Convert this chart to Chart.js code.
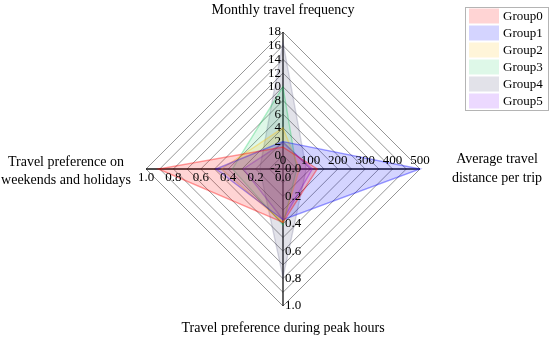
<!DOCTYPE html>
<html><head><meta charset="utf-8">
<script src="https://cdn.jsdelivr.net/npm/chart.js@4/dist/chart.umd.min.js"></script>
<style>html,body{margin:0;padding:0;background:#fff;}#wrap{position:relative;width:550px;height:341px;}</style>
</head><body><div id="wrap"><canvas id="c" width="550" height="341"></canvas></div>
<script>
// ---- data ----
const categories = ["Monthly travel frequency", "Average travel distance per trip", "Travel preference during peak hours", "Travel preference on weekends and holidays"];
const axisTitleLines = [["Monthly travel frequency"], ["Average travel", "distance per trip"], ["Travel preference during peak hours"], ["Travel preference on", "weekends and holidays"]];
const axisMin = [-2, 0, 0, 0];
const axisMax = [18, 500, 1, 1];
const freqTicks = [-2, 0, 2, 4, 6, 8, 10, 12, 14, 16, 18];
const distTicks = [0, 100, 200, 300, 400, 500];
const peakTicks = ["0.0", "0.2", "0.4", "0.6", "0.8", "1.0"];
const weekendTicks = ["0.0", "0.2", "0.4", "0.6", "0.8", "1.0"];
const groupNames = ["Group0", "Group1", "Group2", "Group3", "Group4", "Group5"];
// [frequency, distance, peak, weekend]
const group0 = [1.2, 125, 0.39, 0.91];
const group1 = [2.0, 500, 0.37, 0.49];
const group2 = [4.0, 60, 0.39, 0.45];
const group3 = [10.0, 50, 0.41, 0.37];
const group4 = [16.5, 85, 0.79, 0.17];
const group5 = [1.8, 107, 0.37, 0.29];
const groupValues = [group0, group1, group2, group3, group4, group5];

// ---- styles ----
const baseRGB = ["255,0,0", "0,0,255", "255,190,0", "0,200,80", "50,50,100", "128,0,255"];
const fillAlpha = [0.17, 0.17, 0.15, 0.13, 0.14, 0.15];
const borderAlpha = [0.38, 0.38, 0.35, 0.3, 0.18, 0.38];
const GRID_STEPS = 10;

function toGrid(axis, v) {
  return (v - axisMin[axis]) / (axisMax[axis] - axisMin[axis]) * GRID_STEPS;
}

const datasets = groupNames.map((name, i) => ({
  label: name,
  data: groupValues[i].map((v, k) => toGrid(k, v)),
  backgroundColor: `rgba(${baseRGB[i]},${fillAlpha[i]})`,
  borderColor: `rgba(${baseRGB[i]},${borderAlpha[i]})`,
  borderWidth: 1.4,
  pointRadius: 0,
  pointHoverRadius: 0,
  fill: true,
  clip: false
}));

const SERIF = '"Liberation Serif", "Times New Roman", serif';

const overlay = {
  id: 'overlay',
  afterDatasetsDraw(chart) {
    const ctx = chart.ctx;
    const s = chart.scales.r;
    ctx.save();
    ctx.fillStyle = '#000';
    ctx.font = '13px ' + SERIF;
    // top axis (index 0)
    ctx.textAlign = 'right'; ctx.textBaseline = 'middle';
    freqTicks.forEach(v => { const p = s.getPointPositionForValue(0, toGrid(0, v)); ctx.fillText(String(v), p.x - 2, p.y); });
    // right axis (index 1)
    ctx.textAlign = 'center'; ctx.textBaseline = 'bottom';
    distTicks.forEach(v => { const p = s.getPointPositionForValue(1, toGrid(1, v)); ctx.fillText(String(v), p.x, p.y - 2); });
    // bottom axis (index 2)
    ctx.textAlign = 'left'; ctx.textBaseline = 'middle';
    peakTicks.forEach(t => { const p = s.getPointPositionForValue(2, toGrid(2, parseFloat(t))); ctx.fillText(t, p.x + 2, p.y); });
    // left axis (index 3)
    ctx.textAlign = 'center'; ctx.textBaseline = 'top';
    weekendTicks.forEach(t => { const p = s.getPointPositionForValue(3, toGrid(3, parseFloat(t))); ctx.fillText(t, p.x, p.y + 2); });

    // axis titles
    ctx.font = '14px ' + SERIF;
    ctx.textBaseline = 'middle'; ctx.textAlign = 'center';
    const R = s.drawingArea;
    const top = s.getPointPosition(0, R), right = s.getPointPosition(1, R), bottom = s.getPointPosition(2, R), left = s.getPointPosition(3, R);
    ctx.fillText(axisTitleLines[0][0], top.x, top.y - 22);
    axisTitleLines[1].forEach((l, j) => ctx.fillText(l, right.x + 77, right.y - 10 + j * 19));
    ctx.fillText(axisTitleLines[2][0], bottom.x, bottom.y + 22);
    axisTitleLines[3].forEach((l, j) => ctx.fillText(l, left.x - 80, left.y - 7 + j * 18));

    // legend
    ctx.font = '13px ' + SERIF;
    ctx.textAlign = 'left'; ctx.textBaseline = 'middle';
    ctx.fillStyle = '#fff';
    ctx.fillRect(465.5, 7.5, 83, 103);
    ctx.strokeStyle = '#b4b4b4'; ctx.lineWidth = 1;
    ctx.strokeRect(465.5, 7.5, 83, 103);
    groupNames.forEach((g, i) => {
      const cy = 16 + 17 * i;
      ctx.fillStyle = `rgba(${baseRGB[i]},${fillAlpha[i]})`;
      ctx.fillRect(469, cy - 7.5, 30, 15);
      ctx.fillStyle = '#000';
      ctx.fillText(g, 503, cy + 0.5);
    });
    ctx.restore();
  }
};

new Chart(document.getElementById('c'), {
  type: 'radar',
  data: { labels: categories, datasets },
  options: {
    responsive: false,
    animation: false,
    layout: { padding: { left: 146, right: 130, top: 32, bottom: 35 } },
    plugins: { legend: { display: false }, tooltip: { enabled: false } },
    elements: { line: { tension: 0 } },
    scales: {
      r: {
        min: 0, max: GRID_STEPS,
        ticks: { display: false, stepSize: 1 },
        grid: { color: '#8a8a8a', lineWidth: 0.9 },
        angleLines: { color: '#111', lineWidth: 1.3 },
        pointLabels: { display: false }
      }
    }
  },
  plugins: [overlay]
});
</script>
</body></html>
